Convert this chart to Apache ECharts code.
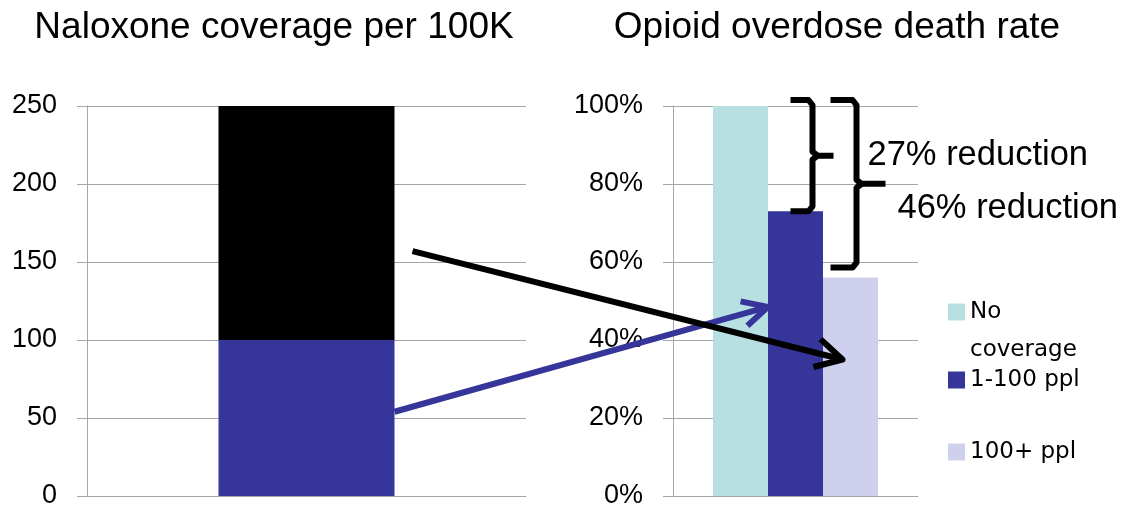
<!DOCTYPE html>
<html><head><meta charset="utf-8">
<script src="https://cdn.jsdelivr.net/npm/echarts@6/dist/echarts.min.js"></script>
<style>html,body{margin:0;padding:0;background:#fff}#c{width:1122px;height:509px}</style>
</head><body><div id="c"></div>
<script>
// ---- data ----
const titles = ['Naloxone coverage per 100K', 'Opioid overdose death rate'];
const coverageCategory = ['Coverage'];
const coverageSeriesNames = ['1-100 per 100K', '100+ per 100K'];
const coverageLow = [100];
const coverageHigh = [150];
const coverageAxis = { min: 0, max: 250, interval: 50 };
const deathCategory = ['Death rate'];
const deathSeriesNames = ['No coverage', '1-100 ppl', '100+ ppl'];
const deathNone = [100];
const death1to100 = [73];
const death100plus = [56];
const deathAxis = { min: 0, max: 100, interval: 20 };
const reductionLabels = ['27% reduction', '46% reduction'];
const legendLabels = [' \nNo\ncoverage', '1-100 ppl', '100+ ppl'];
// arrow anchors (data values on each axis)
const blackArrow = { fromValue: 157, toValue: 35 };
const blueArrow = { fromValue: 54, toValue: 48.5 };

// ---- style ----
const C_TEAL = '#b8e0e2', C_DARK = '#35359a', C_LIGHT = '#cfcfee', C_BLACK = '#000000', C_GRID = '#a6a6a6';
const AXIS_FONT = { fontFamily: 'Liberation Sans', fontSize: 27, color: '#000' };
const LEG_FONT = { fontFamily: 'DejaVu Sans', fontSize: 23, color: '#000' };

const chart = echarts.init(document.getElementById('c'), null, { renderer: 'canvas' });

function yAxisCfg(gridIndex, ax, fmt) {
  return {
    type: 'value', gridIndex, min: ax.min, max: ax.max, interval: ax.interval,
    axisLine: { show: true, lineStyle: { color: C_GRID, width: 1 } },
    axisTick: { show: true, inside: false, length: 10, lineStyle: { color: C_GRID } },
    splitLine: { show: true, lineStyle: { color: C_GRID, width: 1 } },
    axisLabel: Object.assign({ margin: 30, formatter: fmt }, AXIS_FONT)
  };
}
function xAxisCfg(gridIndex, cats) {
  return {
    type: 'category', gridIndex, data: cats,
    axisLine: { show: true, lineStyle: { color: C_GRID } },
    axisTick: { show: false }, axisLabel: { show: false }
  };
}
function legendCfg(name, label, top) {
  return {
    data: [name], left: 948, top, padding: 0, orient: 'vertical',
    icon: 'rect', itemWidth: 17, itemHeight: 17,
    formatter: () => label,
    textStyle: Object.assign({ lineHeight: 38 }, LEG_FONT)
  };
}

chart.setOption({
  animation: false,
  backgroundColor: '#fff',
  title: titles.map((t, i) => ({
    text: t, left: i === 0 ? 274 : 837, top: 9, textAlign: 'center', padding: 0,
    textStyle: { fontFamily: 'Liberation Sans', fontSize: 37, fontWeight: 'normal', color: '#000' }
  })),
  grid: [
    { left: 87, right: 596, top: 106, bottom: 13, outerBoundsMode: 'none' },
    { left: 673, right: 204, top: 106, bottom: 13, outerBoundsMode: 'none' }
  ],
  xAxis: [xAxisCfg(0, coverageCategory), xAxisCfg(1, deathCategory)],
  yAxis: [yAxisCfg(0, coverageAxis, '{value}'), yAxisCfg(1, deathAxis, '{value}%')],
  legend: [
    legendCfg(deathSeriesNames[0], legendLabels[0], 255),
    legendCfg(deathSeriesNames[1], legendLabels[1], 361),
    legendCfg(deathSeriesNames[2], legendLabels[2], 433)
  ],
  series: [
    { name: coverageSeriesNames[0], type: 'bar', xAxisIndex: 0, yAxisIndex: 0, stack: 'cov', barWidth: 176, data: coverageLow, itemStyle: { color: C_DARK } },
    { name: coverageSeriesNames[1], type: 'bar', xAxisIndex: 0, yAxisIndex: 0, stack: 'cov', barWidth: 176, data: coverageHigh, itemStyle: { color: C_BLACK } },
    { name: deathSeriesNames[0], type: 'bar', xAxisIndex: 1, yAxisIndex: 1, barWidth: 55, barGap: '0%', data: deathNone, itemStyle: { color: C_TEAL } },
    { name: deathSeriesNames[1], type: 'bar', xAxisIndex: 1, yAxisIndex: 1, barWidth: 55, barGap: '0%', data: death1to100, itemStyle: { color: C_DARK } },
    { name: deathSeriesNames[2], type: 'bar', xAxisIndex: 1, yAxisIndex: 1, barWidth: 55, barGap: '0%', data: death100plus, itemStyle: { color: C_LIGHT } }
  ]
});

// ---- annotations computed from the scales ----
const p0 = v => chart.convertToPixel({ xAxisIndex: 0, yAxisIndex: 0 }, [0, v]);
const p1 = v => chart.convertToPixel({ xAxisIndex: 1, yAxisIndex: 1 }, [0, v]);
const leftBarRight = p0(0)[0] + 88;
const cx = p1(0)[0];           // centre of the 3-bar group (= dark bar centre)
const darkLeft = cx - 27.5;
const lightCx = cx + 55;

function arrow(x1, y1, x2, y2, color, w, len, ang) {
  const a = Math.atan2(y2 - y1, x2 - x1);
  const a1 = [x2 - len * Math.cos(a - ang), y2 - len * Math.sin(a - ang)];
  const a2 = [x2 - len * Math.cos(a + ang), y2 - len * Math.sin(a + ang)];
  const sx = x2 - 2 * Math.cos(a), sy = y2 - 2 * Math.sin(a);
  return [
    { type: 'polyline', z: 100, shape: { points: [[x1, y1], [sx, sy]] }, style: { stroke: color, lineWidth: w, fill: null } },
    { type: 'polyline', z: 100, shape: { points: [a1, [x2, y2], a2] }, style: { stroke: color, lineWidth: w, fill: null, lineJoin: 'round' } }
  ];
}
function bracket(xh, xv, xn, top, bottom) {
  const mid = (top + bottom) / 2;
  return [
    { type: 'polyline', z: 100, shape: { points: [[xh, top], [xv - 4, top], [xv, top + 5], [xv, mid - 4], [xv + 5, mid], [xn, mid]] }, style: { stroke: '#000', lineWidth: 6, fill: null, lineJoin: 'round' } },
    { type: 'polyline', z: 100, shape: { points: [[xv + 5, mid], [xv, mid + 4], [xv, bottom - 5], [xv - 4, bottom], [xh, bottom]] }, style: { stroke: '#000', lineWidth: 6, fill: null, lineJoin: 'round' } }
  ];
}

const topY = p1(deathNone[0])[1] - 6;
const b1Bottom = p1(death1to100[0])[1];
const b2Bottom = p1(death100plus[0])[1] - 10;
const b1 = { xh: cx - 5, xv: cx + 17, xn: cx + 38 };
const b2 = { xh: cx + 35, xv: cx + 61, xn: cx + 90 };

const elements = []
  .concat(arrow(leftBarRight, p0(blueArrow.fromValue)[1], darkLeft, p1(blueArrow.toValue)[1], C_DARK, 6, 28, 0.47))
  .concat(arrow(leftBarRight + 18, p0(blackArrow.fromValue)[1], lightCx - 8, p1(blackArrow.toValue)[1], C_BLACK, 6, 30, 0.5))
  .concat(bracket(b1.xh, b1.xv, b1.xn, topY, b1Bottom))
  .concat(bracket(b2.xh, b2.xv, b2.xn, topY, b2Bottom))
  .concat([
    { type: 'text', z: 100, x: b1.xn + 34, y: (topY + b1Bottom) / 2, style: { text: reductionLabels[0], fontFamily: 'Liberation Sans', fontSize: 34.5, fill: '#000', align: 'left', verticalAlign: 'middle' } },
    { type: 'text', z: 100, x: b2.xn + 12, y: (topY + b2Bottom) / 2 + 25, style: { text: reductionLabels[1], fontFamily: 'Liberation Sans', fontSize: 34.5, fill: '#000', align: 'left', verticalAlign: 'middle' } }
  ]);

chart.setOption({ graphic: { elements } });
</script>
</body></html>
